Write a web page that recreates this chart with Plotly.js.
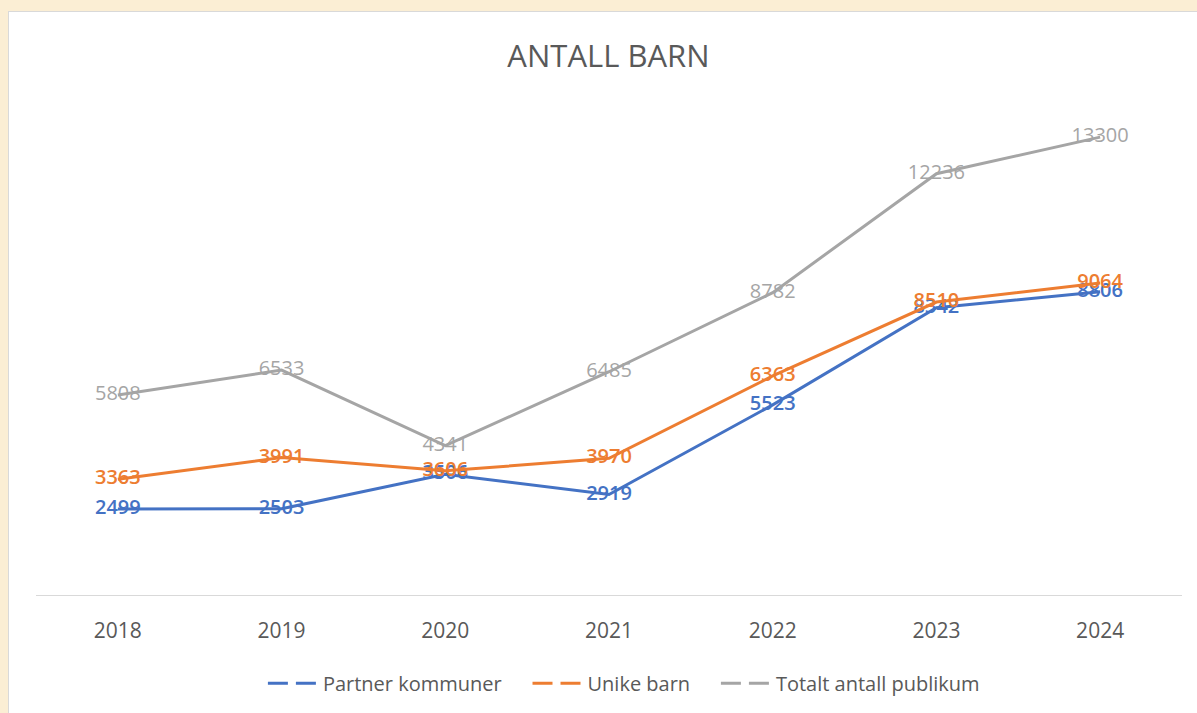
<!DOCTYPE html>
<html>
<head>
<meta charset="utf-8">
<script src="https://cdn.plot.ly/plotly-3.0.1.min.js"></script>
<style>
  html, body { margin: 0; padding: 0; background: #FBEED4; width: 1197px; height: 713px; overflow: hidden; }
  #panel { position: absolute; left: 8px; top: 11px; width: 1200px; height: 710px; background: #fff; border: 1px solid #D9D9D9; border-right: none; box-sizing: border-box; }
  #chart { position: absolute; left: 0; top: 0; width: 1180px; height: 702px; }
</style>
</head>
<body>
<div id="panel"><div id="chart"></div></div>
<script>
const years = ["2018", "2019", "2020", "2021", "2022", "2023", "2024"];
const partnerKommuner = [2499, 2503, 3506, 2919, 5523, 8342, 8806];
const unikeBarn = [3363, 3991, 3606, 3970, 6363, 8510, 9064];
const totaltPublikum = [5808, 6533, 4341, 6485, 8782, 12236, 13300];

const seriesNames = ["Partner kommuner", "Unike barn", "Totalt antall publikum"];
const seriesColors = ["#4472C4", "#ED7D31", "#A5A5A5"];
const seriesData = [partnerKommuner, unikeBarn, totaltPublikum];

const FONT = "Open Sans, sans-serif";
const PAD = "\u00a0\u00a0\u00a0\u00a0";

const traces = seriesData.map((vals, i) => ({
  type: "scatter",
  mode: "lines+text",
  name: seriesNames[i],
  x: years,
  y: vals,
  text: vals.map(String),
  textposition: "middle center",
  textfont: { family: FONT, size: 20, color: seriesColors[i], weight: i < 2 ? 600 : 400 },
  line: { color: seriesColors[i], width: 3 },
  cliponaxis: false,
  showlegend: false,
  hoverinfo: "x+y+name"
}));

// legend-only entries with the dashed swatch look of the reference
seriesNames.forEach((nm, i) => {
  traces.push({
    type: "scatter",
    mode: "lines",
    name: i < seriesNames.length - 1 ? nm + PAD : nm,
    x: [null],
    y: [null],
    line: { color: seriesColors[i], width: 3, dash: "20px,8px" },
    showlegend: true,
    hoverinfo: "skip"
  });
});

const layout = {
  width: 1180,
  height: 702,
  margin: { l: 27, r: 7, t: 101, b: 119 },
  paper_bgcolor: "rgba(0,0,0,0)",
  plot_bgcolor: "rgba(0,0,0,0)",
  title: {
    text: "ANTALL BARN",
    font: { family: FONT, size: 31, color: "#595959" },
    x: 0.508, xref: "container", xanchor: "center",
    y: 0.937, yref: "container", yanchor: "middle"
  },
  xaxis: {
    type: "category",
    range: [-0.5, 6.5],
    showline: true,
    linecolor: "#D9D9D9",
    linewidth: 1,
    showgrid: false,
    zeroline: false,
    ticks: "",
    ticklabelstandoff: 17,
    tickfont: { family: FONT, size: 21, color: "#595959" }
  },
  yaxis: {
    range: [0, 14000],
    showgrid: false,
    zeroline: false,
    showline: false,
    showticklabels: false,
    ticks: ""
  },
  showlegend: true,
  legend: {
    orientation: "h",
    x: 0.513, xanchor: "center",
    y: -0.183, yanchor: "middle",
    font: { family: FONT, size: 20, color: "#595959" },
    itemwidth: 50,
    traceorder: "normal"
  }
};

Plotly.newPlot("chart", traces, layout, { displayModeBar: false });
</script>
</body>
</html>
